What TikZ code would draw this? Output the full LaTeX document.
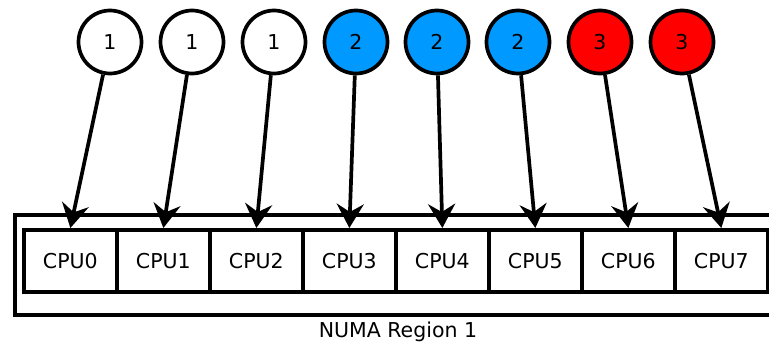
\documentclass[tikz,border=0pt]{standalone}
\usepackage{fontspec}
\setmainfont{DejaVu Sans}
\usetikzlibrary{arrows.meta}
\definecolor{tokblue}{RGB}{0,153,255}
\definecolor{tokred}{RGB}{255,0,0}
\begin{document}
\begin{tikzpicture}[x=1pt,y=-1pt,
  font=\fontsize{20.5}{24}\selectfont,
  token/.style={circle,draw,line width=3.7pt,minimum size=63pt,inner sep=0pt},
  cpubox/.style={rectangle,draw,line width=3.7pt,minimum width=93pt,minimum height=62pt,inner sep=0pt,anchor=north west},
  pin/.style={line width=3.7pt,-{Stealth[length=24pt,width=27pt,inset=8pt]}}]
\useasboundingbox (0,0) rectangle (769,348);
\clip (0,0) rectangle (769,348);
% outer region frame (runs off the right edge)
\node[draw,line width=3.7pt,minimum width=800pt,minimum height=100pt,inner sep=0pt,anchor=north west] (region) at (13,213) {};
% CPU cells
\foreach \i in {0,...,7}
  \node[cpubox] (cpu\i) at (22+93*\i,228) {CPU\i};
% tokens
\node[token] (c0) at (110,42) {1};
\node[token] (c1) at (192,42) {1};
\node[token] (c2) at (274,42) {1};
\node[token,fill=tokblue] (c3) at (356,42) {2};
\node[token,fill=tokblue] (c4) at (437,42) {2};
\node[token,fill=tokblue] (c5) at (518,42) {2};
\node[token,fill=tokred] (c6) at (600,42) {3};
\node[token,fill=tokred] (c7) at (682,42) {3};
% assignment arrows
\foreach \i in {0,...,7}
  \draw[pin] (c\i) -- (cpu\i.north);
% caption
\node (lbl) at (398,332) {NUMA Region 1};
\end{tikzpicture}
\end{document}
